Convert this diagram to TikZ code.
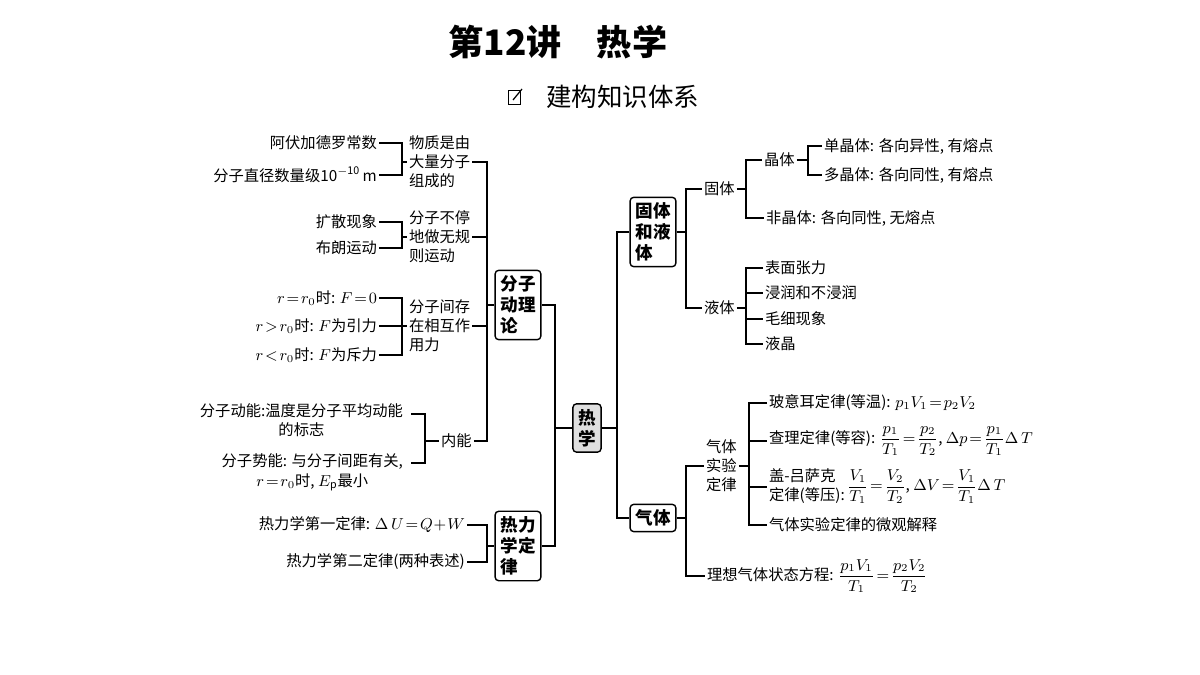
\documentclass[tikz,border=0pt]{standalone}
\usepackage{amsmath}
\usepackage{fontspec}
\setmainfont{Noto Sans CJK SC}
\newfontfamily\titlefont{Noto Sans CJK SC}
\usetikzlibrary{calc, positioning}

\tikzset{
  box/.style={draw, rounded corners=2pt, thick, font=\bfseries, align=left, inner sep=3pt, fill=white},
  txt/.style={inner sep=1pt, align=left},
  lf/.style={txt, anchor=east},
  rt/.style={txt, anchor=west},
  ln/.style={line width=0.6pt}
}

\begin{document}
\begin{tikzpicture}[x=0.02cm, y=-0.02cm, font=\fontsize{8.7}{10.8}\selectfont]
	\useasboundingbox (0,0) rectangle (1200,675);
	
	% title
	\node[font=\titlefont\fontsize{20}{22}\selectfont\bfseries] (title) at (558,42) {第12讲\quad 热学};
	\node[font=\fontsize{14.5}{16}\selectfont, anchor=west] (sub) at (540,97) {建构知识体系};
	\draw[line width=0.5pt] (508,90) rectangle (520,104);
	\draw[line width=0.7pt] (513,100) -- (522,89);
	
	% centre and main boxes
	\node[box, fill=gray!25] (re) at (587,428) {热\\学};
	\node[box] (fz) at (518,305) {分子\\动理\\论};
	\node[box] (rl) at (518,546) {热力\\学定\\律};
	\node[box] (gy) at (653,232) {固体\\和液\\体};
	\node[box] (qt) at (653,518) {气体};
	
	\coordinate (jL) at (555,428);
	\draw[ln] (re.west) -- (jL) |- (fz.east);
	\draw[ln] (jL) |- (rl.east);
	\coordinate (jR) at (617,428);
	\draw[ln] (re.east) -- (jR) |- (gy.west);
	\draw[ln] (jR) |- (qt.west);
	
	% molecular theory
	\node[rt] (m1) at (407,162) {物质是由\\大量分子\\组成的};
	\node[rt] (m2) at (407,237) {分子不停\\地做无规\\则运动};
	\node[rt] (m3) at (407,326) {分子间存\\在相互作\\用力};
	\node[rt] (m4) at (439,441) {内能};
	\coordinate (jF) at (487,305);
	\draw[ln] (fz.west) -- (jF);
	\foreach \n in {m1,m2,m3,m4}
		\draw[ln] (\n.east) -- ++(3,0) -| (jF);
	
	\node[lf] (a1) at (379,143) {阿伏加德罗常数};
	\node[lf] (a2) at (379,175) {分子直径数量级10\textsuperscript{$-$10}\,m};
	\draw[ln] (a1.east) -- (402,143) -- (402,175) -- (a2.east);
	\draw[ln] (402,162) -- (m1.west);
	
	\node[lf] (b1) at (379,222) {扩散现象};
	\node[lf] (b2) at (379,248) {布朗运动};
	\draw[ln] (b1.east) -- (402,222) -- (402,248) -- (b2.east);
	\draw[ln] (402,237) -- (m2.west);
	
	\node[lf] (c1) at (379,298) {$r\!=\!r_0$时: $F\!=\!0$};
	\node[lf] (c2) at (379,326) {$r\!>\!r_0$时: $F$为引力};
	\node[lf] (c3) at (379,355) {$r\!<\!r_0$时: $F$为斥力};
	\draw[ln] (c1.east) -- (402,298) -- (402,355) -- (c3.east);
	\draw[ln] (c2.east) -- (m3.west);
	
	\node[lf] (d1) at (405,411) {分子动能:温度是分子平均动能};
	\node[txt, below=0pt of d1] (d1b) {的标志};
	\node[lf] (d2) at (405,462) {分子势能: 与分子间距有关,};
	\node[txt, below=0pt of d2] (d2b) {$r\!=\!r_0$时, $E_{\mathrm p}$最小};
	\draw[ln] (d1.east) ++(6,3) -- (425,414) -- (425,463) -- ($(d2.east)+(6,1)$);
	\draw[ln] (425,441) -- (m4.west);
	
	% thermodynamics
	\node[lf] (e1) at (467,525) {热力学第一定律: $\Delta\,U\!=\!Q\!+\!W$};
	\node[lf] (e2) at (467,562) {热力学第二定律(两种表述)};
	\draw[ln] (e1.east) -- (487,525) -- (487,562) -- (e2.east);
	\draw[ln] (487,546) -- (rl.west);
	
	% solids and liquids
	\node[rt] (s1) at (702,189) {固体};
	\node[rt] (s2) at (702,308) {液体};
	\coordinate (jG) at (686,232);
	\draw[ln] (gy.east) -- (jG) |- (s1.west);
	\draw[ln] (jG) |- (s2.west);
	
	\node[rt] (k1) at (762,160) {晶体};
	\node[rt] (k2) at (764,218) {非晶体: 各向同性, 无熔点};
	\draw[ln] (s1.east) -- (746,189) |- (k1.west);
	\draw[ln] (746,189) |- (k2.west);
	\node[rt] (k3) at (822,146) {单晶体: 各向异性, 有熔点};
	\node[rt] (k4) at (822,175) {多晶体: 各向同性, 有熔点};
	\draw[ln] (k1.east) -- (808,160) |- (k3.west);
	\draw[ln] (808,160) |- (k4.west);
	
	\foreach \n/\y/\t in {l1/268/表面张力,l2/293/浸润和不浸润,l3/319/毛细现象,l4/344/液晶}
		\node[rt] (\n) at (763,\y) {\t};
	\draw[ln] (s2.east) -- (746,308);
	\draw[ln] (l1.west) -| (746,344) -- (l4.west);
	\draw[ln] (746,293) -- (l2.west);
	\draw[ln] (746,319) -- (l3.west);
	
	% gases
	\node[rt] (g1) at (704,466) {气体\\实验\\定律};
	\node[rt] (g2) at (705,576) {理想气体状态方程: $\dfrac{p_1V_1}{T_1}\!=\!\dfrac{p_2V_2}{T_2}$};
	\coordinate (jQ) at (686,518);
	\draw[ln] (qt.east) -- (jQ) |- (g1.west);
	\draw[ln] (jQ) |- (g2.west);
	
	\node[rt] (h1) at (767,403) {玻意耳定律(等温): $p_1V_1\!=\!p_2V_2$};
	\node[rt] (h2) at (767,441) {查理定律(等容): $\dfrac{p_1}{T_1}\!=\!\dfrac{p_2}{T_2}$, $\Delta p\!=\!\dfrac{p_1}{T_1}\Delta\,T$};
	\node[rt] (h3) at (767,487) {\begin{tabular}{@{}l@{}}盖-吕萨克\\定律(等压):\end{tabular}\,$\dfrac{V_1}{T_1}\!=\!\dfrac{V_2}{T_2}$, $\Delta V\!=\!\dfrac{V_1}{T_1}\Delta\,T$};
	\node[rt] (h4) at (767,525) {气体实验定律的微观解释};
	\draw[ln] (g1.east) -- (749,466);
	\draw[ln] (h1.west) -| (749,525) -- (h4.west);
	\draw[ln] (749,441) -- (h2.west);
	\draw[ln] (749,487) -- (h3.west);
\end{tikzpicture}
\end{document}
